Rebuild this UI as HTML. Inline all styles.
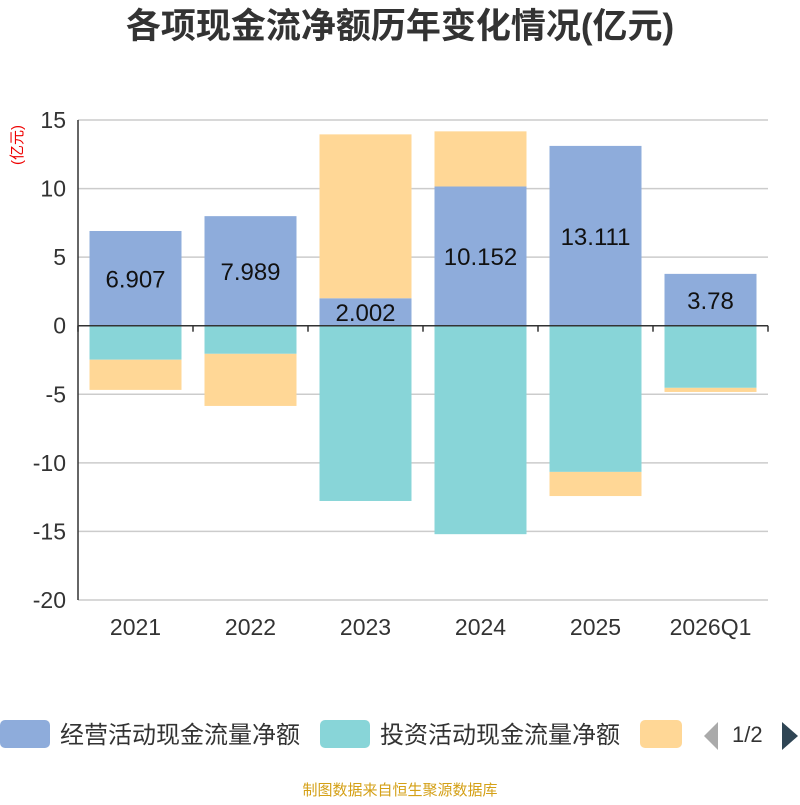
<!DOCTYPE html>
<html><head><meta charset="utf-8"><style>
body{margin:0;background:#fff;font-family:"Liberation Sans","Noto Sans CJK SC",sans-serif}
</style></head><body>
<svg width="800" height="800" xmlns="http://www.w3.org/2000/svg" style="font-family:'Liberation Sans','Noto Sans CJK SC',sans-serif">
<text x="400" y="38" text-anchor="middle" font-size="35" font-weight="bold" fill="#333">各项现金流净额历年变化情况(亿元)</text>
<text x="22" y="145" font-size="15" fill="#e00" transform="rotate(-90 22 145)" text-anchor="middle">(亿元)</text>
<g id="grid"></g><g id="bars"></g><g id="axes"></g>
<g>
<rect x="0" y="720" width="50" height="28" rx="5" fill="#8eacdb"/>
<text x="60" y="743" font-size="24" fill="#333">经营活动现金流量净额</text>
<rect x="320" y="720" width="50" height="28" rx="5" fill="#88d5d8"/>
<text x="380" y="743" font-size="24" fill="#333">投资活动现金流量净额</text>
<rect x="640" y="720" width="42" height="28" rx="5" fill="#ffd796"/>
<polygon points="718,722 718,750 704,736" fill="#aaa"/>
<text x="732" y="742" font-size="22" fill="#333">1/2</text>
<polygon points="782,722 782,750 798,736" fill="#2f4554"/>
</g>
<text x="400" y="795" text-anchor="middle" font-size="15" fill="#d4a017">制图数据来自恒生聚源数据库</text>
</svg>
<script>
const categories=["2021","2022","2023","2024","2025","2026Q1"];
const operating=[6.907,7.989,2.002,10.152,13.111,3.78];
const investing=[-2.48,-2.05,-12.78,-15.2,-10.66,-4.53];
const financing=[-2.2,-3.8,11.95,4.02,-1.76,-0.3];
const yTicks=[15,10,5,0,-5,-10,-15,-20];
const NS="http://www.w3.org/2000/svg";
const x0=78,x1=768,yTop=120,yBot=600,vMax=15,vMin=-20;
const y=v=>yTop+(vMax-v)*(yBot-yTop)/(vMax-vMin);
const bw=(x1-x0)/categories.length;
const xc=i=>x0+bw*(i+0.5);
function mk(tag,attrs,parent){const e=document.createElementNS(NS,tag);for(const k in attrs)e.setAttribute(k,attrs[k]);document.getElementById(parent).appendChild(e);return e;}
yTicks.forEach(t=>{
 const l=mk("line",{x1:x0,x2:x1,y1:y(t),y2:y(t),stroke:"#ccc","stroke-width":1.5},"grid");
 
 
 const tx=mk("text",{x:x0-12,y:y(t)+8,"text-anchor":"end","font-size":23,fill:"#333"},"axes");
 tx.textContent=t;
 
 
});
const ax=mk("line",{x1:x0,x2:x0,y1:yTop,y2:yBot,stroke:"#333","stroke-width":1.5},"axes");


const xa=mk("line",{x1:x0,x2:x1,y1:y(0),y2:y(0),stroke:"#333","stroke-width":1.5},"axes");


for(let i=0;i<=categories.length;i++){
 const tk=mk("line",{x1:x0+bw*i,x2:x0+bw*i,y1:y(0),y2:y(0)+6,stroke:"#333","stroke-width":1.5},"axes");
 
 
}
function seg(i,a,b,color,name){
 const top=Math.min(y(a),y(b)),h=Math.abs(y(a)-y(b));
 const r=mk("rect",{x:xc(i)-46,y:top,width:92,height:h,fill:color},"bars");
 
 
}
categories.forEach((c,i)=>{
 let pos=0,neg=0;
 const o=operating[i];
 if(o>=0){seg(i,0,o,"#8eacdb","bar-operating-"+c);pos=o;}else{seg(i,0,o,"#8eacdb","bar-operating-"+c);neg=o;}
 const v=investing[i];
 if(v>=0){seg(i,pos,pos+v,"#88d5d8","bar-investing-"+c);pos+=v;}else{seg(i,neg,neg+v,"#88d5d8","bar-investing-"+c);neg+=v;}
 const f=financing[i];
 if(f>=0){seg(i,pos,pos+f,"#ffd796","bar-financing-"+c);pos+=f;}else{seg(i,neg,neg+f,"#ffd796","bar-financing-"+c);neg+=f;}
 const lb=mk("text",{x:xc(i),y:y(o/2)+9,"text-anchor":"middle","font-size":24,fill:"#111"},"bars");
 lb.textContent=o;
 
 
 const xl=mk("text",{x:xc(i),y:635,"text-anchor":"middle","font-size":23,fill:"#333"},"axes");
 xl.textContent=c;
 
 
});
</script>
</body></html>
